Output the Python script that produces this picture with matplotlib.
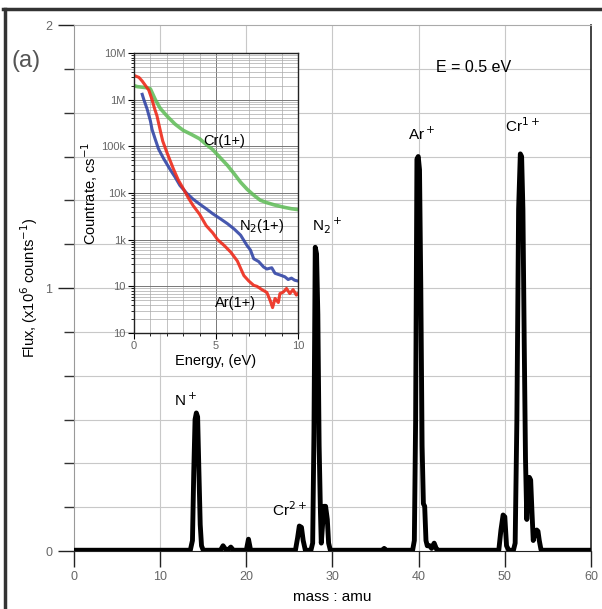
import matplotlib.pyplot as plt
from matplotlib.lines import Line2D
from matplotlib.ticker import FixedLocator, NullFormatter

plt.rcParams['font.family'] = ['Liberation Sans', 'DejaVu Sans']

# mass spectrum (mass in amu, flux in 1e6 counts)
mass = [0, 13.5, 13.75, 13.9, 14.05, 14.2, 14.35, 14.5, 14.65, 14.8, 15.0,
        17.0, 17.3, 17.6, 17.9, 18.2, 18.5, 20.0, 20.25, 20.5,
        25.7, 25.95, 26.15, 26.4, 26.6, 26.85,
        27.5, 27.7, 27.85, 28.0, 28.15, 28.3, 28.45, 28.6, 28.7, 28.85, 29.0, 29.2, 29.4, 29.55, 29.75,
        35.8, 36.0, 36.2,
        39.3, 39.5, 39.65, 39.8, 39.95, 40.1, 40.25, 40.4, 40.55, 40.7, 40.85, 41.0, 41.3, 41.5,
        41.8, 42.1, 42.3,
        49.3, 49.55, 49.8, 50.0, 50.2, 50.45,
        51.0, 51.2, 51.4, 51.6, 51.8, 51.95, 52.1, 52.25, 52.4, 52.55, 52.7, 52.85, 53.0, 53.15,
        53.3, 53.5, 53.7, 53.85, 54.0, 54.2, 54.4, 60]
flux = [0.003, 0.003, 0.04, 0.3, 0.5, 0.525, 0.51, 0.3, 0.1, 0.02, 0.003,
        0.003, 0.02, 0.006, 0.005, 0.015, 0.003, 0.003, 0.045, 0.003,
        0.003, 0.05, 0.095, 0.09, 0.04, 0.003,
        0.003, 0.03, 0.45, 1.155, 1.13, 0.9, 0.4, 0.15, 0.03, 0.1, 0.17, 0.17, 0.12, 0.03, 0.003,
        0.003, 0.01, 0.003,
        0.003, 0.04, 0.5, 1.49, 1.5, 1.45, 1.0, 0.4, 0.18, 0.17, 0.04, 0.02, 0.02, 0.01,
        0.03, 0.005, 0.003,
        0.003, 0.08, 0.137, 0.13, 0.02, 0.003,
        0.003, 0.03, 0.5, 1.3, 1.51, 1.5, 1.3, 0.8, 0.35, 0.12, 0.25, 0.28, 0.27, 0.15,
        0.04, 0.07, 0.08, 0.075, 0.04, 0.005, 0.003, 0.003]

peak_labels = ['N$^+$', 'Cr$^{2+}$', 'N$_2$$^+$', 'Ar$^+$', 'Cr$^{1+}$']
label_x = [13.0, 25.0, 29.4, 40.3, 52.1]
label_y = [0.54, 0.12, 1.2, 1.55, 1.58]

# inset: countrate vs energy
e_cr = [0, 0.2, 0.5, 0.8, 1.0, 1.3, 1.6, 2.0, 2.5, 3.0, 3.5, 4.0, 4.4, 4.8, 5.2, 5.7, 6.1, 6.5,
        6.9, 7.3, 7.7, 8.1, 8.6, 9.2, 9.6, 10]
c_cr = [2.0e6, 1.9e6, 1.85e6, 1.8e6, 1.7e6, 1.0e6, 6.5e5, 4.5e5, 3.0e5, 2.2e5, 1.8e5, 1.45e5,
        1.1e5, 8.5e4, 6.0e4, 3.9e4, 2.6e4, 1.7e4, 1.2e4, 9.0e3, 7.0e3, 6.2e3, 5.5e3, 4.9e3,
        4.6e3, 4.4e3]
e_n2 = [0.5, 0.6, 0.8, 1.0, 1.1, 1.3, 1.5, 1.8, 2.2, 2.5, 2.8, 3.2, 3.6, 4.0, 4.4, 4.8, 5.3,
        5.7, 6.1, 6.5, 6.9, 7.1, 7.3, 7.6, 7.9, 8.1, 8.4, 8.6, 8.9, 9.2, 9.4, 9.6, 9.8, 10]
c_n2 = [1.3e6, 1.0e6, 6.3e5, 3.5e5, 2.3e5, 1.4e5, 8.7e4, 5.5e4, 3.2e4, 2.2e4, 1.45e4, 1.0e4,
        7.4e3, 5.8e3, 4.6e3, 3.6e3, 2.75e3, 2.2e3, 1.7e3, 1.25e3, 7.4e2, 6.0e2, 3.9e2, 3.4e2,
        2.6e2, 2.35e2, 2.5e2, 1.9e2, 1.75e2, 1.6e2, 1.4e2, 1.5e2, 1.35e2, 1.3e2]
e_ar = [0, 0.3, 0.5, 0.7, 0.9, 1.1, 1.25, 1.4, 1.6, 1.75, 2.0, 2.4, 2.7, 3.0, 3.3, 3.6, 4.0,
        4.4, 4.8, 5.1, 5.5, 5.9, 6.3, 6.7, 7.0, 7.3, 7.5, 7.8, 8.1, 8.3, 8.45, 8.6, 8.8, 8.9,
        9.1, 9.3, 9.5, 9.7, 9.9, 10]
c_ar = [3.3e6, 3.0e6, 2.5e6, 2.0e6, 1.6e6, 1.0e6, 6.5e5, 4.5e5, 2.2e5, 1.3e5, 7.5e4, 3.3e4,
        1.9e4, 1.25e4, 8.0e3, 5.4e3, 3.5e3, 2.0e3, 1.4e3, 1.0e3, 7.5e2, 5.4e2, 3.5e2, 1.7e2,
        1.3e2, 1.05e2, 1.0e2, 8.5e1, 7.4e1, 5.0e1, 3.5e1, 5.5e1, 4.5e1, 7.0e1, 7.5e1, 9.0e1,
        7.0e1, 8.5e1, 6.5e1, 7.0e1]

inset_ticks = [1e1, 1e2, 1e3, 1e4, 1e5, 1e6, 1e7]
inset_ticklabels = ['10', '10', '1k', '10k', '100k', '1M', '10M']

fig = plt.figure(figsize=(6.02, 6.09), dpi=100)

# outer frame of the scanned panel
fig.add_artist(Line2D([0.009, 0.009], [0.0, 0.986], color='#333333', lw=2.5))
fig.add_artist(Line2D([0.005, 1.0], [0.986, 0.986], color='#333333', lw=2.5))

ax = fig.add_axes([0.1229, 0.0952, 0.8588, 0.8637])
ax.plot(mass, flux, color='black', lw=3.5, solid_joinstyle='round', zorder=3)
ax.set_xlim(0, 60)
ax.set_ylim(0, 2)
ax.set_xticks([0, 10, 20, 30, 40, 50, 60])
ax.set_yticks([0, 1, 2])
ax.yaxis.set_minor_locator(FixedLocator([i / 6 for i in range(1, 12) if i != 6]))
ax.tick_params(axis='both', which='major', length=11.5, width=1, color='#222222',
               labelsize=9, labelcolor='#666666', direction='out')
ax.tick_params(axis='y', which='minor', length=7, width=1, color='#333333')
ax.tick_params(axis='x', pad=3)
ax.tick_params(axis='y', pad=4)
for y in [i / 6 for i in range(1, 12)]:
    ax.axhline(y, color='#c8c8c8', lw=0.8, zorder=0)
for x in [10, 20, 30, 40, 50]:
    ax.axvline(x, color='#c8c8c8', lw=0.8, zorder=0)
ax.spines['top'].set_color('#aaaaaa')
ax.spines['left'].set_color('#999999')
ax.spines['right'].set_color('#222222')
ax.spines['bottom'].set_color('#222222')
ax.spines['right'].set_linewidth(1.2)

ax.set_xlabel('mass : amu', fontsize=11, labelpad=5)
ax.set_ylabel('Flux, (x10$^6$ counts$^{-1}$)', fontsize=10.5, labelpad=4)

for t, x, y in zip(peak_labels, label_x, label_y):
    ax.text(x, y, t, fontsize=11, ha='center', va='bottom')
ax.text(46.4, 1.84, 'E = 0.5 eV', fontsize=11.5, ha='center', va='center')
fig.text(0.043, 0.9, '(a)', fontsize=17, color='#555555', ha='center', va='center')

# inset
ins = fig.add_axes([0.2226, 0.4532, 0.2724, 0.4598])
ins.plot(e_cr, c_cr, color='#5dbb55', lw=2.6, alpha=0.85)
ins.plot(e_n2, c_n2, color='#3346a6', lw=2.2, alpha=0.9)
ins.plot(e_ar, c_ar, color='#ee2a1a', lw=2.2, alpha=0.9)
ins.set_yscale('log')
ins.set_xlim(0, 10)
ins.set_ylim(10, 1e7)
ins.set_yticks(inset_ticks)
ins.set_yticklabels(inset_ticklabels)
ins.yaxis.set_minor_formatter(NullFormatter())
ins.set_xticks([0, 5, 10])
ins.xaxis.set_minor_locator(FixedLocator([1, 2, 3, 4, 6, 7, 8, 9]))
ins.grid(True, which='major', color='#777777', lw=0.7)
ins.grid(True, which='minor', color='#aaaaaa', lw=0.5)
ins.set_axisbelow(True)
ins.tick_params(axis='both', which='major', length=4, labelsize=8, labelcolor='#666666', pad=2)
ins.tick_params(axis='both', which='minor', length=2)
for s in ins.spines.values():
    s.set_color('#222222')
    s.set_linewidth(1.0)
ins.set_xlabel('Energy, (eV)', fontsize=10.5, labelpad=2)
ins.set_ylabel('Countrate, cs$^{-1}$', fontsize=10.5, labelpad=1)
ins.text(5.5, 1.3e5, 'Cr(1+)', fontsize=10.5, ha='center', va='center')
ins.text(7.8, 2.0e3, 'N$_2$(1+)', fontsize=10.5, ha='center', va='center')
ins.text(6.2, 4.5e1, 'Ar(1+)', fontsize=10.5, ha='center', va='center')

fig.savefig('out.png', dpi=100)
